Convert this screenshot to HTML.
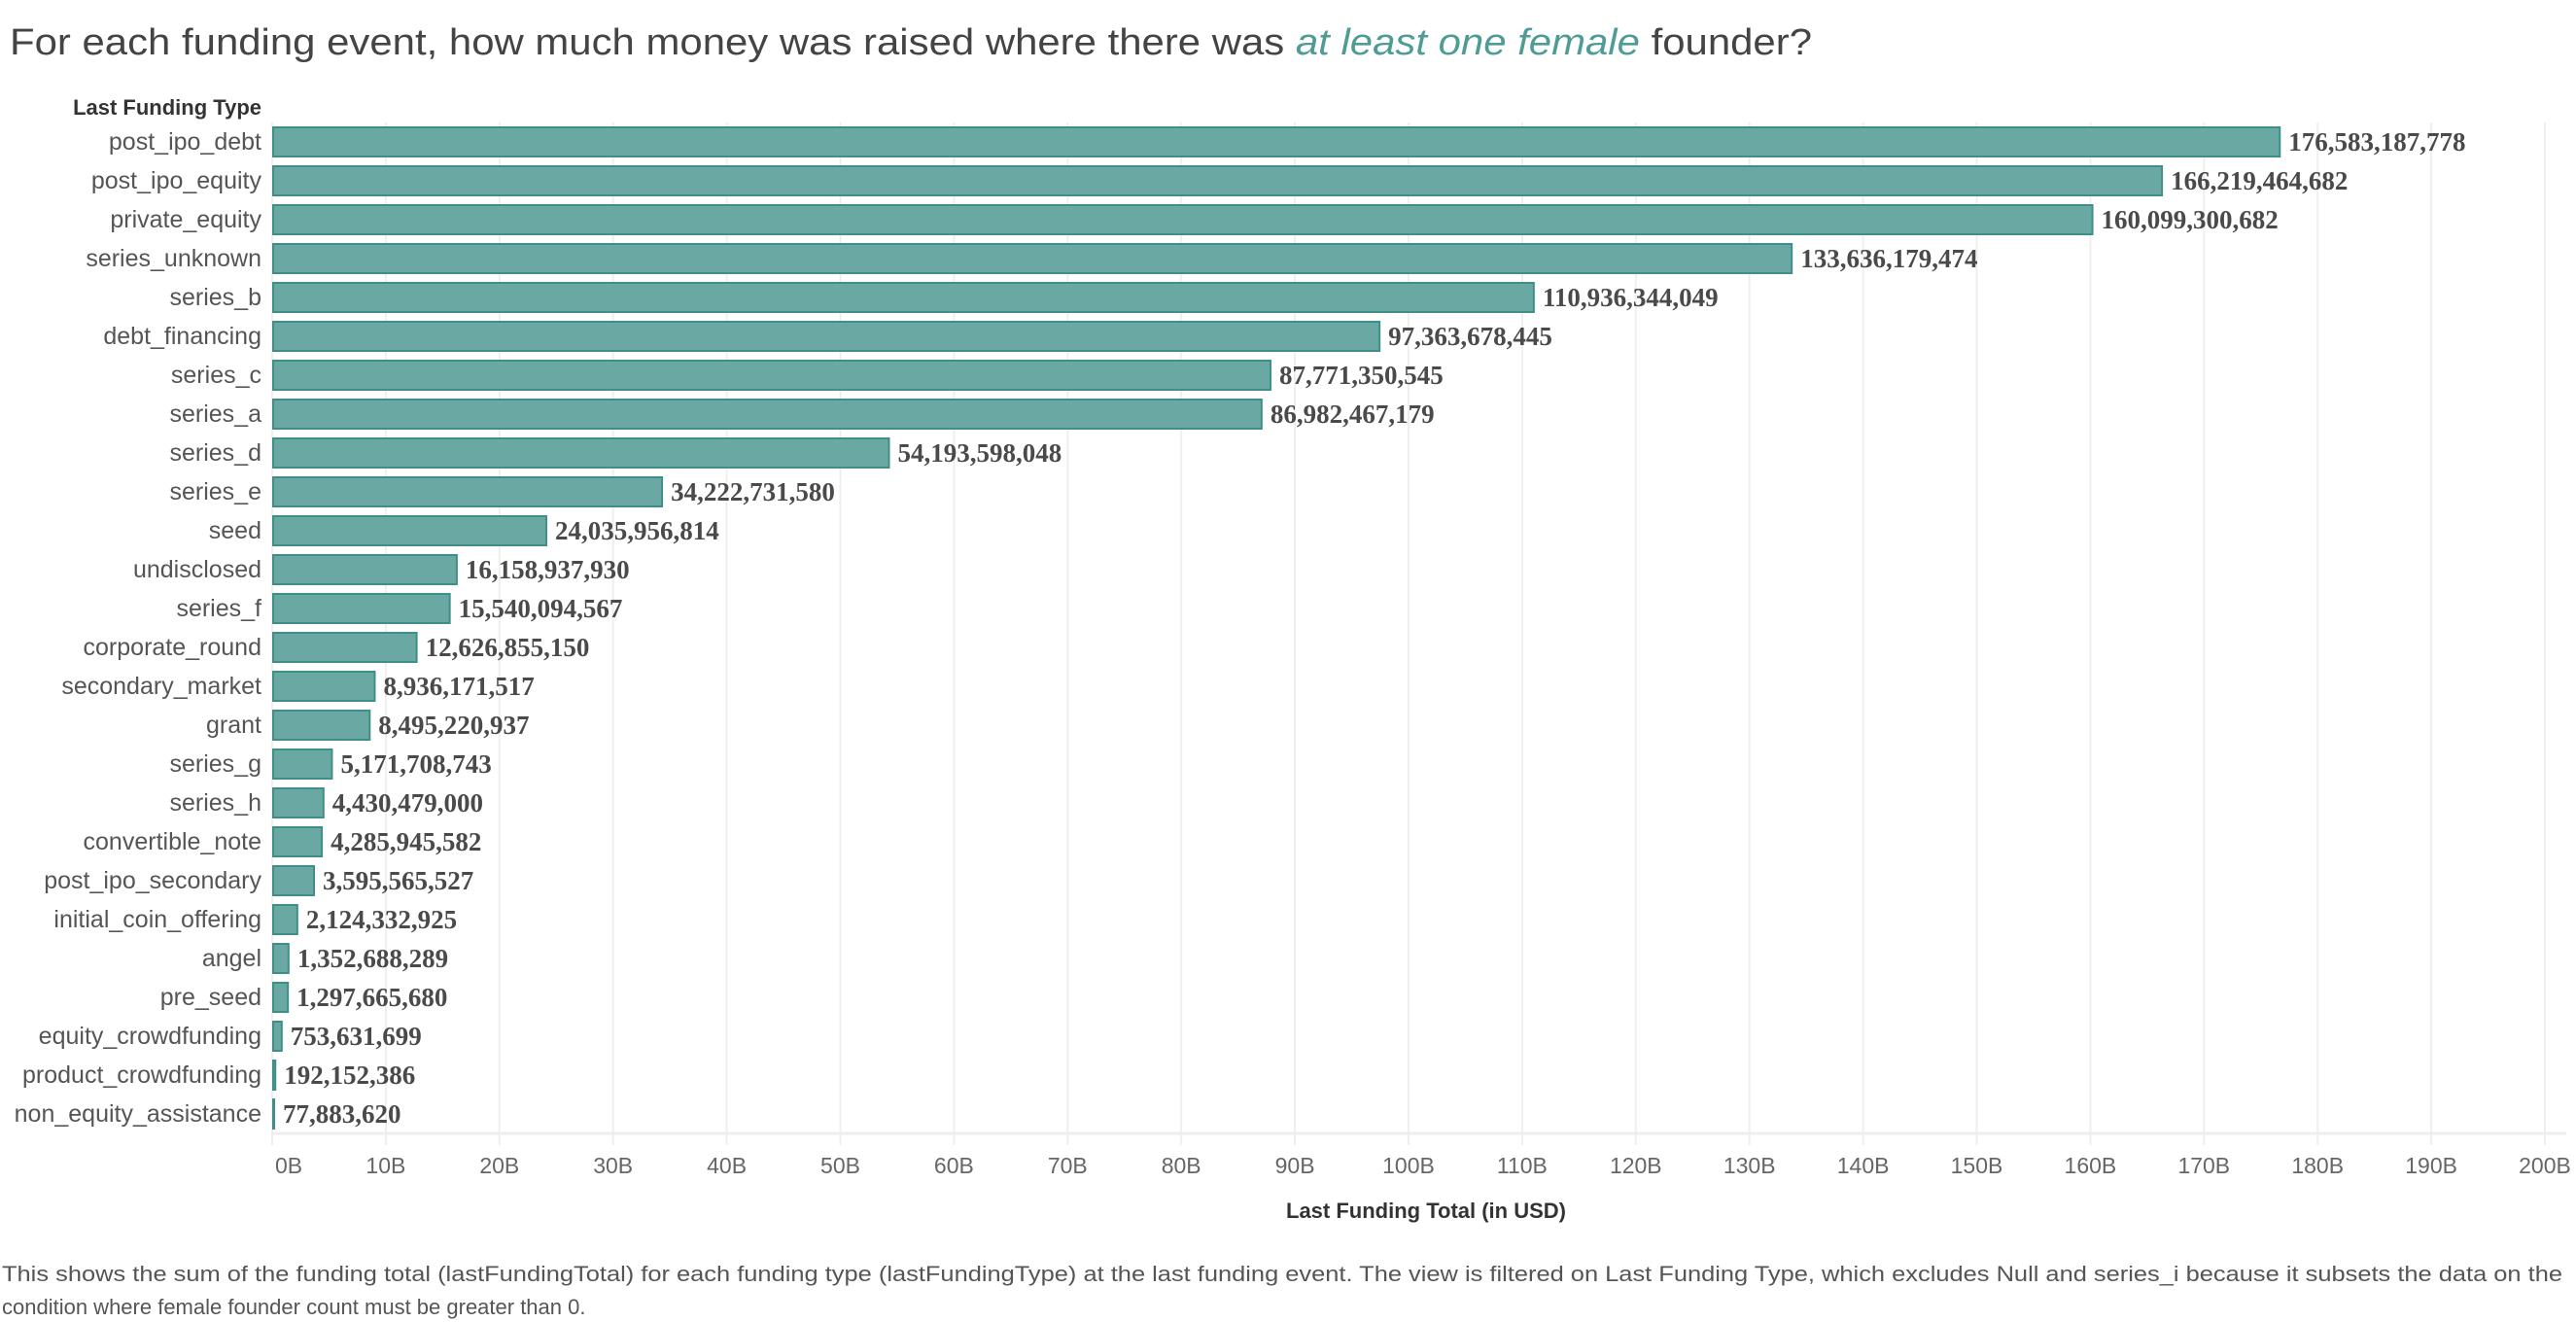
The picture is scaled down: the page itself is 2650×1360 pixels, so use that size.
<!DOCTYPE html>
<html><head><meta charset="utf-8"><style>
html,body{margin:0;padding:0;background:#fff;}
svg{display:block;}
</style></head><body>
<svg id="chart" width="2650" height="1360" xmlns="http://www.w3.org/2000/svg">
<text x="10" y="56" font-family="Liberation Sans, sans-serif" font-size="38" fill="#444" textLength="1854" lengthAdjust="spacingAndGlyphs">For each funding event, how much money was raised where there was <tspan fill="#4e9c95" font-style="italic">at least one female</tspan> founder?</text>
<text x="269" y="118" text-anchor="end" font-family="Liberation Sans, sans-serif" font-size="22" font-weight="bold" fill="#333">Last Funding Type</text>
<g id="grid"></g>
<g id="bars"></g>
<g id="xticks"></g>
<text x="1467" y="1253" text-anchor="middle" font-family="Liberation Sans, sans-serif" font-size="22" font-weight="bold" fill="#333">Last Funding Total (in USD)</text>
<text x="2" y="1318" font-family="Liberation Sans, sans-serif" font-size="22" fill="#555" textLength="2634" lengthAdjust="spacingAndGlyphs">This shows the sum of the funding total (lastFundingTotal) for each funding type (lastFundingType) at the last funding event. The view is filtered on Last Funding Type, which excludes Null and series_i because it subsets the data on the</text>
<text x="2" y="1352" font-family="Liberation Sans, sans-serif" font-size="22" fill="#555">condition where female founder count must be greater than 0.</text>
</svg>
<script>
const categories = ["post_ipo_debt","post_ipo_equity","private_equity","series_unknown","series_b","debt_financing","series_c","series_a","series_d","series_e","seed","undisclosed","series_f","corporate_round","secondary_market","grant","series_g","series_h","convertible_note","post_ipo_secondary","initial_coin_offering","angel","pre_seed","equity_crowdfunding","product_crowdfunding","non_equity_assistance"];
const values = [176583187778,166219464682,160099300682,133636179474,110936344049,97363678445,87771350545,86982467179,54193598048,34222731580,24035956814,16158937930,15540094567,12626855150,8936171517,8495220937,5171708743,4430479000,4285945582,3595565527,2124332925,1352688289,1297665680,753631699,192152386,77883620];
const tickValues = [0,10,20,30,40,50,60,70,80,90,100,110,120,130,140,150,160,170,180,190,200];
const tickLabels = ["0B","10B","20B","30B","40B","50B","60B","70B","80B","90B","100B","110B","120B","130B","140B","150B","160B","170B","180B","190B","200B"];

const NS = "http://www.w3.org/2000/svg";
const X0 = 280, PX_PER_B = 11.69;
const xScale = v => X0 + (v / 1e9) * PX_PER_B;
const yCenter = i => 146 + i * 40;
function mk(tag, attrs, parent){const e=document.createElementNS(NS,tag);for(const k in attrs)e.setAttribute(k,attrs[k]);parent.appendChild(e);return e;}
const grid=document.getElementById('grid'), bars=document.getElementById('bars'), xt=document.getElementById('xticks');

tickValues.forEach((t,i)=>{
  const x = xScale(t*1e9);
  const g = mk('line',{x1:x,x2:x,y1:126,y2:1178,stroke:'#efefef','stroke-width':2},grid);
  
  
  const lbl = mk('text',{x: i===0 ? x+3 : x, y:1207,'text-anchor': i===0?'start':'middle','font-family':'Liberation Sans, sans-serif','font-size':23,fill:'#666'},xt);
  lbl.textContent = tickLabels[i];
  
  
});
const ax = mk('line',{x1:X0,x2:2640,y1:1166,y2:1166,stroke:'#eeeeee','stroke-width':3},grid);



categories.forEach((c,i)=>{
  const yc = yCenter(i);
  const w = Math.max(xScale(values[i]) - X0, 1);
  const r = mk('rect',{x:X0+1,y:yc-15,width:w,height:30,fill:'#6aa8a3',stroke:'#3f8f88','stroke-width':2},bars);
  
  
  const cl = mk('text',{x:269,y:yc+8,'text-anchor':'end','font-family':'Liberation Sans, sans-serif','font-size':25,fill:'#555'},bars);
  cl.textContent = c;
  
  
  const vl = mk('text',{x:X0+w+10,y:yc+9,'font-family':'Liberation Serif, serif','font-size':27,'font-weight':'bold',fill:'#4a4a4a'},bars);
  vl.textContent = values[i].toLocaleString('en-US');
  
  
});
</script>
</body></html>
